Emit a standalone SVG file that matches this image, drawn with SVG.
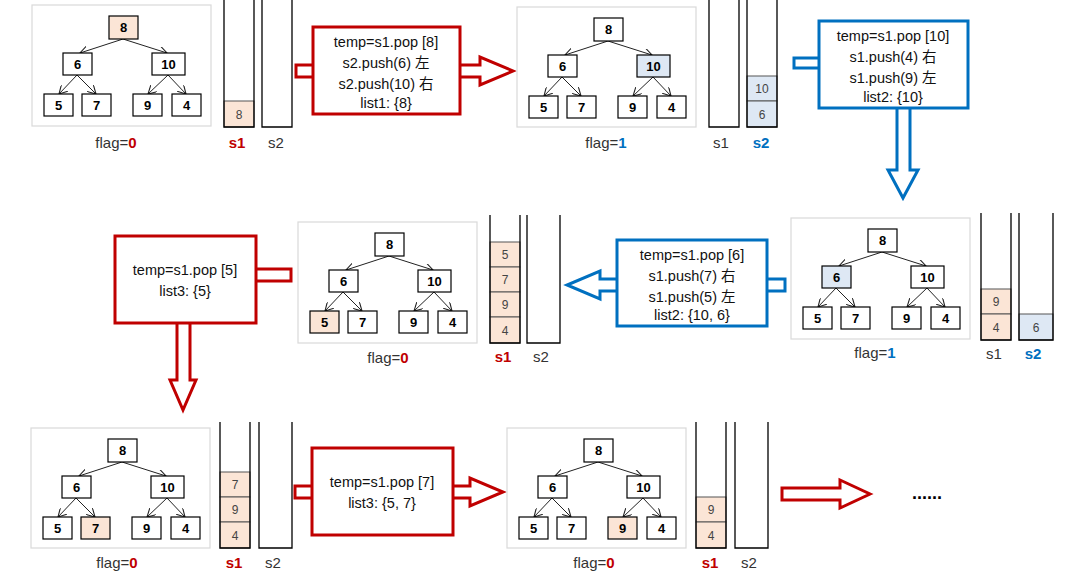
<svg xmlns="http://www.w3.org/2000/svg" width="1076" height="579" viewBox="0 0 1076 579">
<style>
.fr{fill:#fff;stroke:#d9d9d9;stroke-width:1.2}
.n{fill:#fff;stroke:#000;stroke-width:1.2}
.o{fill:#fbe5d6}.b{fill:#dee8f4}
.nt{font:bold 13px "Liberation Sans",sans-serif;text-anchor:middle}
.e{stroke:#222;stroke-width:1;fill:none;marker-end:url(#a)}
.st{fill:none;stroke:#000;stroke-width:1.3}
.c{stroke:#555;stroke-width:1}
.ct{font:12px "Liberation Sans",sans-serif;text-anchor:middle;fill:#444}
.lb{font:15px "Liberation Sans","Noto Sans CJK SC",sans-serif;text-anchor:middle;fill:#333}
.bx{font:14.5px "Liberation Sans","Noto Sans CJK SC",sans-serif;text-anchor:middle;fill:#111}
.r{fill:#c00000;font-weight:bold}.bl{fill:#0070c0;font-weight:bold}
.rb{fill:#fff;stroke:#c00000;stroke-width:3}
.bb{fill:#fff;stroke:#0070c0;stroke-width:3}
</style>
<defs>
<marker id="a" viewBox="0 0 10 10" refX="9" refY="5" markerWidth="9" markerHeight="9" orient="auto" markerUnits="userSpaceOnUse"><path d="M0,0 L9,5 L0,10" fill="none" stroke="#222" stroke-width="1.2"/></marker>
<g id="edges">
<path class="e" d="M91,34 L48,48"/><path class="e" d="M91,34 L135,48"/>
<path class="e" d="M45,70 L27,89"/><path class="e" d="M45,70 L64,89"/>
<path class="e" d="M136,70 L116,89"/><path class="e" d="M136,70 L154,89"/>
</g>
</defs>

<g id="connectors">
<polygon class="rb" points="296,65 480,65 480,57 513,71 480,85 480,77 296,77"/>
<polygon class="bb" points="794,58 830,58 830,68 794,68"/>
<polygon class="bb" points="897,100 910,100 910,170 918,170 903,198 888,170 897,170"/>
<polygon class="bb" points="785,279 750,279 750,291 785,291"/>
<polygon class="bb" points="630,279 600,279 600,271 567,285 600,299 600,291 630,291"/>
<polygon class="rb" points="245,269 291,269 291,281 245,281"/>
<polygon class="rb" points="177,315 190,315 190,380 196,380 183,410 170,380 177,380"/>
<polygon class="rb" points="295,486 330,486 330,498 295,498"/>
<polygon class="rb" points="440,486 470,486 470,478 503,492 470,506 470,498 440,498"/>
<polygon class="rb" points="782,488 840,488 840,480 870,494 840,508 840,500 782,500"/>
</g>

<!-- Panel 1 -->
<g id="tree1" transform="translate(32,5)">
<rect class="fr" x="0" y="0" width="179" height="121"/><use href="#edges"/>
<rect class="n o" x="77" y="11" width="29" height="23"/><text class="nt" x="91.5" y="27">8</text>
<rect class="n" x="31" y="48" width="29" height="22"/><text class="nt" x="45.5" y="64">6</text>
<rect class="n" x="120" y="48" width="33" height="22"/><text class="nt" x="136.5" y="64">10</text>
<rect class="n" x="12" y="89" width="29" height="22"/><text class="nt" x="26.5" y="105">5</text>
<rect class="n" x="50" y="89" width="29" height="22"/><text class="nt" x="64.5" y="105">7</text>
<rect class="n" x="101" y="89" width="29" height="22"/><text class="nt" x="115.5" y="105">9</text>
<rect class="n" x="140" y="89" width="29" height="22"/><text class="nt" x="154.5" y="105">4</text>
<text class="lb" x="84" y="143">flag=<tspan class="r">0</tspan></text>
</g>
<g id="stack1">
<rect class="o c" x="224" y="101" width="30" height="26"/><text class="ct" x="239" y="119">8</text>
<path class="st" d="M224,0 V127 H254 V0 M262,0 V127 H292 V0"/>
<text class="lb r" x="237" y="148">s1</text><text class="lb" x="276" y="148">s2</text>
</g>
<g id="box1"><rect class="rb" x="313" y="27" width="147" height="87"/>
<text class="bx" x="386" y="47">temp=s1.pop  [8]</text><text class="bx" x="386" y="68">s2.push(6) 左</text>
<text class="bx" x="386" y="89">s2.push(10) 右</text><text class="bx" x="386" y="108">list1: {8}</text></g>

<!-- Panel 2 -->
<g id="tree2" transform="translate(517,7)">
<rect class="fr" x="0" y="0" width="179" height="120"/><use href="#edges"/>
<rect class="n" x="77" y="11" width="29" height="23"/><text class="nt" x="91.5" y="27">8</text>
<rect class="n" x="31" y="48" width="29" height="22"/><text class="nt" x="45.5" y="64">6</text>
<rect class="n b" x="120" y="48" width="33" height="22"/><text class="nt" x="136.5" y="64">10</text>
<rect class="n" x="12" y="89" width="29" height="22"/><text class="nt" x="26.5" y="105">5</text>
<rect class="n" x="50" y="89" width="29" height="22"/><text class="nt" x="64.5" y="105">7</text>
<rect class="n" x="101" y="89" width="29" height="22"/><text class="nt" x="115.5" y="105">9</text>
<rect class="n" x="140" y="89" width="29" height="22"/><text class="nt" x="154.5" y="105">4</text>
<text class="lb" x="89" y="141">flag=<tspan class="bl">1</tspan></text>
</g>
<g id="stack2">
<rect class="b c" x="747" y="76" width="30" height="25"/><text class="ct" x="762" y="93">10</text>
<rect class="b c" x="747" y="101" width="30" height="26"/><text class="ct" x="762" y="119">6</text>
<path class="st" d="M709,0 V127 H739 V0 M747,0 V127 H777 V0"/>
<text class="lb" x="721" y="148">s1</text><text class="lb bl" x="761" y="148">s2</text>
</g>
<g id="box2"><rect class="bb" x="819" y="21" width="149" height="87"/>
<text class="bx" x="893" y="41">temp=s1.pop  [10]</text><text class="bx" x="893" y="62">s1.push(4) 右</text>
<text class="bx" x="893" y="83">s1.push(9) 左</text><text class="bx" x="893" y="102">list2: {10}</text></g>

<!-- Panel 3 -->
<g id="tree3" transform="translate(791,218)">
<rect class="fr" x="0" y="0" width="179" height="121"/><use href="#edges"/>
<rect class="n" x="77" y="11" width="29" height="23"/><text class="nt" x="91.5" y="27">8</text>
<rect class="n b" x="31" y="48" width="29" height="22"/><text class="nt" x="45.5" y="64">6</text>
<rect class="n" x="120" y="48" width="33" height="22"/><text class="nt" x="136.5" y="64">10</text>
<rect class="n" x="12" y="89" width="29" height="22"/><text class="nt" x="26.5" y="105">5</text>
<rect class="n" x="50" y="89" width="29" height="22"/><text class="nt" x="64.5" y="105">7</text>
<rect class="n" x="101" y="89" width="29" height="22"/><text class="nt" x="115.5" y="105">9</text>
<rect class="n" x="140" y="89" width="29" height="22"/><text class="nt" x="154.5" y="105">4</text>
<text class="lb" x="84" y="140">flag=<tspan class="bl">1</tspan></text>
</g>
<g id="stack3">
<rect class="o c" x="981" y="289" width="30" height="25"/><text class="ct" x="996" y="306">9</text>
<rect class="o c" x="981" y="314" width="30" height="26"/><text class="ct" x="996" y="332">4</text>
<rect class="b c" x="1019" y="314" width="34" height="26"/><text class="ct" x="1036" y="332">6</text>
<path class="st" d="M981,213 V340 H1011 V213 M1019,213 V340 H1053 V213"/>
<text class="lb" x="994" y="359">s1</text><text class="lb bl" x="1033" y="359">s2</text>
</g>
<g id="box3"><rect class="bb" x="617" y="240" width="150" height="86"/>
<text class="bx" x="692" y="260">temp=s1.pop  [6]</text><text class="bx" x="692" y="281">s1.push(7) 右</text>
<text class="bx" x="692" y="302">s1.push(5) 左</text><text class="bx" x="692" y="320">list2: {10, 6}</text></g>

<!-- Panel 4 -->
<g id="tree4" transform="translate(298,222)">
<rect class="fr" x="0" y="0" width="179" height="121"/><use href="#edges"/>
<rect class="n" x="77" y="11" width="29" height="23"/><text class="nt" x="91.5" y="27">8</text>
<rect class="n" x="31" y="48" width="29" height="22"/><text class="nt" x="45.5" y="64">6</text>
<rect class="n" x="120" y="48" width="33" height="22"/><text class="nt" x="136.5" y="64">10</text>
<rect class="n o" x="12" y="89" width="29" height="22"/><text class="nt" x="26.5" y="105">5</text>
<rect class="n" x="50" y="89" width="29" height="22"/><text class="nt" x="64.5" y="105">7</text>
<rect class="n" x="101" y="89" width="29" height="22"/><text class="nt" x="115.5" y="105">9</text>
<rect class="n" x="140" y="89" width="29" height="22"/><text class="nt" x="154.5" y="105">4</text>
<text class="lb" x="90" y="141">flag=<tspan class="r">0</tspan></text>
</g>
<g id="stack4">
<rect class="o c" x="490" y="242" width="30" height="25"/><text class="ct" x="505" y="259">5</text>
<rect class="o c" x="490" y="267" width="30" height="25"/><text class="ct" x="505" y="284">7</text>
<rect class="o c" x="490" y="292" width="30" height="25"/><text class="ct" x="505" y="309">9</text>
<rect class="o c" x="490" y="317" width="30" height="26"/><text class="ct" x="505" y="335">4</text>
<path class="st" d="M490,215 V343 H520 V215 M527,215 V343 H560 V215"/>
<text class="lb r" x="503" y="362">s1</text><text class="lb" x="541" y="362">s2</text>
</g>
<g id="box4"><rect class="rb" x="115" y="236" width="141" height="87"/>
<text class="bx" x="185" y="275">temp=s1.pop [5]</text><text class="bx" x="185" y="296">list3: {5}</text></g>

<!-- Panel 5 -->
<g id="tree5" transform="translate(31,428)">
<rect class="fr" x="0" y="0" width="179" height="120"/><use href="#edges"/>
<rect class="n" x="77" y="11" width="29" height="23"/><text class="nt" x="91.5" y="27">8</text>
<rect class="n" x="31" y="48" width="29" height="22"/><text class="nt" x="45.5" y="64">6</text>
<rect class="n" x="120" y="48" width="33" height="22"/><text class="nt" x="136.5" y="64">10</text>
<rect class="n" x="12" y="89" width="29" height="22"/><text class="nt" x="26.5" y="105">5</text>
<rect class="n o" x="50" y="89" width="29" height="22"/><text class="nt" x="64.5" y="105">7</text>
<rect class="n" x="101" y="89" width="29" height="22"/><text class="nt" x="115.5" y="105">9</text>
<rect class="n" x="140" y="89" width="29" height="22"/><text class="nt" x="154.5" y="105">4</text>
<text class="lb" x="86" y="140">flag=<tspan class="r">0</tspan></text>
</g>
<g id="stack5">
<rect class="o c" x="220" y="472" width="30" height="25"/><text class="ct" x="235" y="489">7</text>
<rect class="o c" x="220" y="497" width="30" height="25"/><text class="ct" x="235" y="514">9</text>
<rect class="o c" x="220" y="522" width="30" height="26"/><text class="ct" x="235" y="540">4</text>
<path class="st" d="M220,422 V548 H250 V422 M259,422 V548 H292 V422"/>
<text class="lb r" x="234" y="568">s1</text><text class="lb" x="273" y="568">s2</text>
</g>
<g id="box5"><rect class="rb" x="312" y="448" width="141" height="87"/>
<text class="bx" x="382" y="487">temp=s1.pop [7]</text><text class="bx" x="382" y="508">list3: {5, 7}</text></g>

<!-- Panel 6 -->
<g id="tree6" transform="translate(507,428)">
<rect class="fr" x="0" y="0" width="179" height="120"/><use href="#edges"/>
<rect class="n" x="77" y="11" width="29" height="23"/><text class="nt" x="91.5" y="27">8</text>
<rect class="n" x="31" y="48" width="29" height="22"/><text class="nt" x="45.5" y="64">6</text>
<rect class="n" x="120" y="48" width="33" height="22"/><text class="nt" x="136.5" y="64">10</text>
<rect class="n" x="12" y="89" width="29" height="22"/><text class="nt" x="26.5" y="105">5</text>
<rect class="n" x="50" y="89" width="29" height="22"/><text class="nt" x="64.5" y="105">7</text>
<rect class="n o" x="101" y="89" width="29" height="22"/><text class="nt" x="115.5" y="105">9</text>
<rect class="n" x="140" y="89" width="29" height="22"/><text class="nt" x="154.5" y="105">4</text>
<text class="lb" x="87" y="140">flag=<tspan class="r">0</tspan></text>
</g>
<g id="stack6">
<rect class="o c" x="696" y="497" width="30" height="25"/><text class="ct" x="711" y="514">9</text>
<rect class="o c" x="696" y="522" width="30" height="26"/><text class="ct" x="711" y="540">4</text>
<path class="st" d="M696,422 V548 H726 V422 M735,422 V548 H768 V422"/>
<text class="lb r" x="710" y="568">s1</text><text class="lb" x="749" y="568">s2</text>
</g>
<text x="927" y="499" style="font:bold 18px 'Liberation Sans',sans-serif;text-anchor:middle">......</text>
</svg>
